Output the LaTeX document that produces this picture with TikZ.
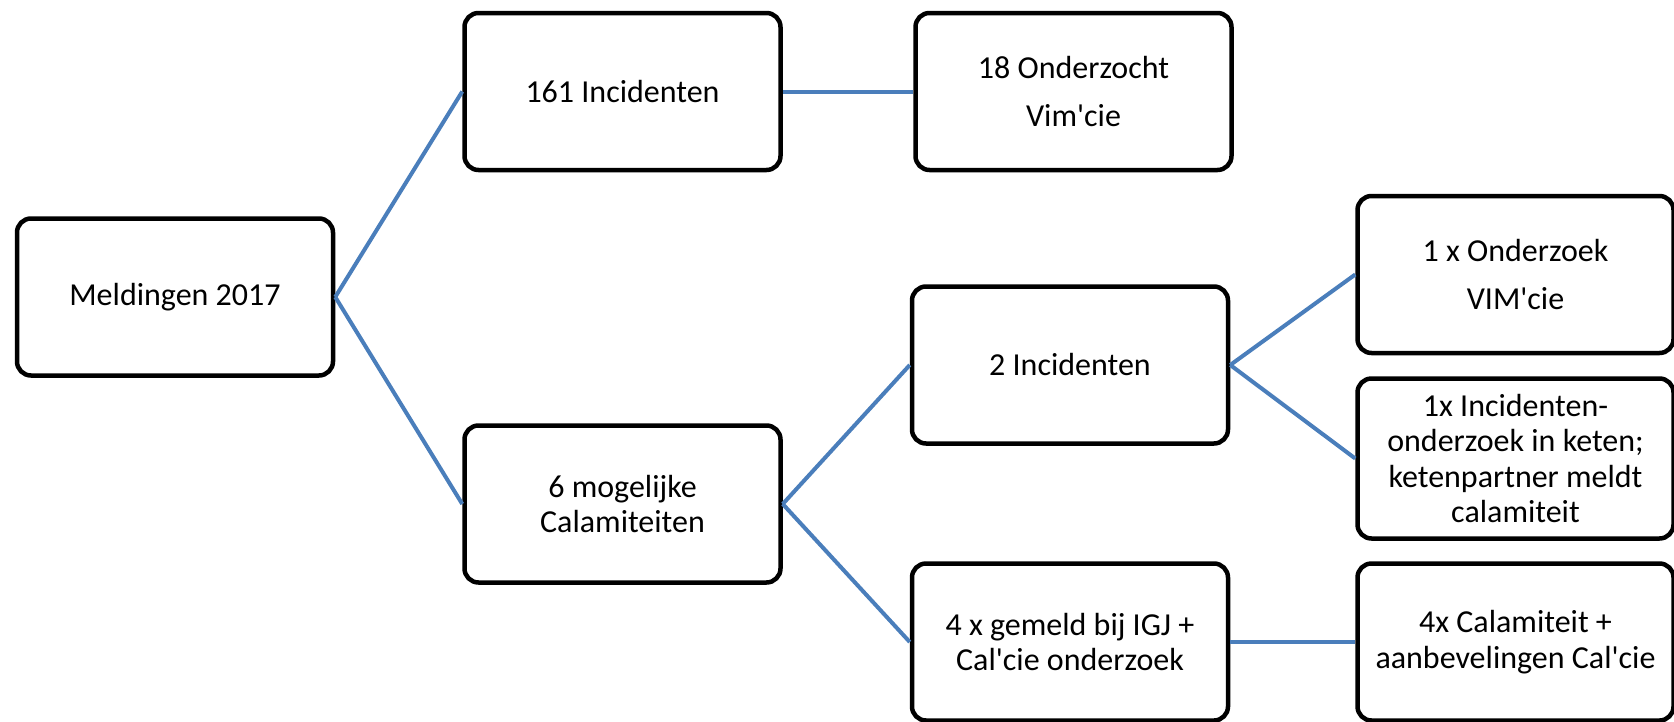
\documentclass[tikz,border=0pt]{standalone}
\usepackage{fontspec}
\setmainfont{Carlito}[Ligatures=TeXOff]
\definecolor{conblue}{RGB}{74,126,187}
\begin{document}
\begin{tikzpicture}[x=1pt,y=-1pt,
  box/.style={draw=black, line width=4.5pt, rounded corners=14pt, fill=white,
    minimum width=316pt, minimum height=157pt, inner sep=0pt, align=center,
    font=\fontsize{32}{35.5}\selectfont},
  con/.style={draw=conblue, line width=4pt}]
\useasboundingbox (0,0) rectangle (1674,721);
\node[box] (meld) at (175,297) {Meldingen 2017};
\node[box] (inc161) at (622.5,91.5) {161 Incidenten};
\node[box] (ond18) at (1073.5,91.5) {18 Onderzocht\\[12pt]Vim'cie};
\node[box] (mog6) at (622.5,504) {6 mogelijke\\Calamiteiten};
\node[box] (inc2) at (1070,365) {2 Incidenten};
\node[box] (gem4) at (1070,642) {4 x gemeld bij IGJ +\\Cal'cie onderzoek};
\node[box] (ond1) at (1515.5,274.5) {1 x Onderzoek\\[12pt]VIM'cie};
\node[box, minimum height=160pt] (keten) at (1515.5,458.5) {1x Incidenten-\\onderzoek in keten;\\ketenpartner meldt\\calamiteit};
\node[box] (cal4) at (1515.5,642) {4x Calamiteit +\\aanbevelingen Cal'cie};
\draw[con] (meld.east) -- (inc161.west);
\draw[con] (meld.east) -- (mog6.west);
\draw[con] (inc161.east) -- (ond18.west);
\draw[con] (mog6.east) -- (inc2.west);
\draw[con] (mog6.east) -- (gem4.west);
\draw[con] (inc2.east) -- (ond1.west);
\draw[con] (inc2.east) -- (keten.west);
\draw[con] (gem4.east) -- (cal4.west);
\end{tikzpicture}
\end{document}
